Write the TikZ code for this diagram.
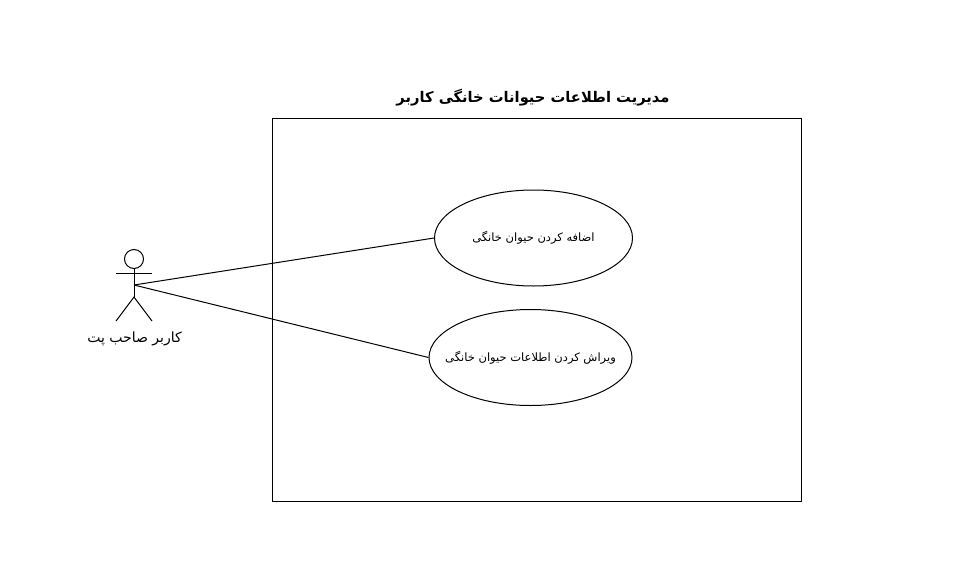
\documentclass[tikz,border=0pt]{standalone}
\usepackage{fontspec}
\newfontfamily\arabicfont[Script=Arabic]{DejaVu Sans}
\TeXXeTstate=1
\usetikzlibrary{positioning,shapes.geometric}

\begin{document}
\begin{tikzpicture}[x=1pt,y=-1pt,line width=1pt]
  \tikzstyle{usecase} = [draw,ellipse,inner sep=0pt,font=\arabicfont\fontsize{11.5}{13}\selectfont]
  \useasboundingbox (0,0) rectangle (971,573);

  \node [draw,rectangle,minimum width=529pt,minimum height=383pt,anchor=north west] (system) at (272,118) {};
  \node [above=8pt of system.north,xshift=-4pt,font=\arabicfont\bfseries\fontsize{14.7}{17}\selectfont] (title) {\beginR مدیریت اطلاعات حیوانات خانگی کاربر\endR};

  \node [usecase,minimum width=198pt,minimum height=96pt] (addpet) at (533.5,238) {\makebox[0pt]{\beginR اضافه کردن حیوان خانگی\endR}};
  \node [usecase,minimum width=203pt,minimum height=96pt] (editpet) at (530.5,357.5) {\makebox[0pt]{\beginR ویراش کردن اطلاعات حیوان خانگی\endR}};

  % actor
  \node [draw,circle,minimum size=19pt,inner sep=0pt] (head) at (134,259) {};
  \coordinate (hub) at (134,285);
  \coordinate (hip) at (134,297);
  \coordinate (lefthand) at (116,273);
  \coordinate (righthand) at (152,273);
  \coordinate (leftfoot) at (116,321);
  \coordinate (rightfoot) at (152,321);
  \draw (head.south) -- (hip);
  \draw (lefthand) -- (righthand);
  \draw (leftfoot) -- (hip) -- (rightfoot);
  \node [font=\arabicfont\fontsize{14}{16}\selectfont] (actor) at (134.5,338.5) {\beginR کاربر صاحب پت\endR};

  \draw (hub) -- (addpet.west);
  \draw (hub) -- (editpet.west);
\end{tikzpicture}
\end{document}
